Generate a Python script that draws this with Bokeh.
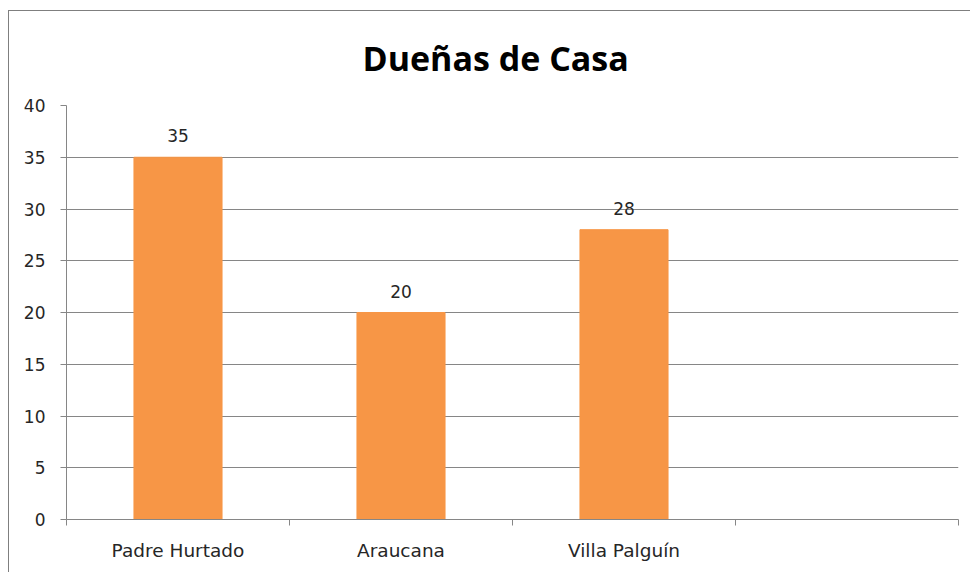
from bokeh.plotting import figure
from bokeh.models import Range1d, FixedTicker, LinearAxis, ColumnDataSource, LabelSet
from bokeh.core.properties import value
from bokeh.embed import file_html
from bokeh.resources import INLINE

title_text = "Dueñas de Casa"
categories = ["Padre Hurtado", "Araucana", "Villa Palguín", ""]
values = [35, 20, 28, None]
yticks = [0, 5, 10, 15, 20, 25, 30, 35, 40]

n = len(categories)
xpos = [i + 0.5 for i in range(n)]
bx = [xpos[i] for i in range(n) if values[i] is not None]
bv = [values[i] for i in range(n) if values[i] is not None]
src = ColumnDataSource(dict(x=bx, top=bv, lbl=[str(v) for v in bv]))

GRAY = "#868686"
TXT = "#262626"

p = figure(output_backend="svg", toolbar_location=None,
           frame_width=892, frame_height=414,
           min_border_left=57, min_border_right=12, min_border_top=94, min_border_bottom=53,
           x_range=Range1d(0, n), y_range=Range1d(0, yticks[-1]),
           x_axis_location=None, y_axis_location=None)
p.outline_line_color = None
p.background_fill_color = "white"
p.border_fill_color = "white"
p.styles = {"border-left": "1px solid #7f7f7f", "border-top": "1px solid #7f7f7f",
            "margin-left": "8px", "margin-top": "10px"}

p.title.text = title_text
p.title.text_font = "Open Sans"
p.title.text_font_style = "bold"
p.title.text_font_size = "34px"
p.title.text_color = "#000000"
p.title.align = "left"
p.title.vertical_align = "top"
p.title.offset = 296
p.title.standoff = 46

p.xgrid.visible = False
p.ygrid.ticker = FixedTicker(ticks=yticks)
p.ygrid.grid_line_color = GRAY
p.ygrid.grid_line_width = 1

p.vbar(x="x", top="top", width=0.395, source=src, fill_color="#F79646", line_color="#F79646")

yaxis = LinearAxis(ticker=FixedTicker(ticks=yticks))
yaxis.axis_line_color = GRAY
yaxis.major_tick_line_color = GRAY
yaxis.major_tick_out = 6
yaxis.major_tick_in = 0
yaxis.minor_tick_line_color = None
yaxis.major_label_text_font = "DejaVu Sans"
yaxis.major_label_text_font_size = "17px"
yaxis.major_label_text_color = TXT
yaxis.major_label_standoff = 15
p.add_layout(yaxis, "left")

xaxis = LinearAxis(ticker=FixedTicker(ticks=xpos, minor_ticks=list(range(n + 1))))
xaxis.axis_line_color = GRAY
xaxis.major_tick_line_color = None
xaxis.minor_tick_line_color = GRAY
xaxis.minor_tick_out = 6
xaxis.minor_tick_in = 0
xaxis.major_label_overrides = {xpos[i]: categories[i] for i in range(n)}
xaxis.major_label_text_font = "DejaVu Sans"
xaxis.major_label_text_font_size = "18.5px"
xaxis.major_label_text_color = TXT
xaxis.major_label_standoff = 14
p.add_layout(xaxis, "below")

labels = LabelSet(x="x", y="top", text="lbl", source=src, y_offset=15,
                  text_align="center", text_baseline="alphabetic",
                  text_font=value("DejaVu Sans"), text_font_size=value("17px"),
                  text_color=TXT)
p.add_layout(labels)

open("out.html", "w").write(file_html(p, INLINE))
